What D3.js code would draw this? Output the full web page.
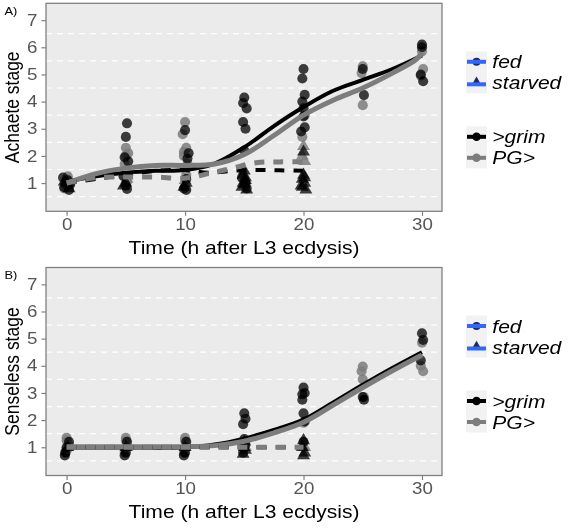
<!DOCTYPE html>
<html>
<head>
<meta charset="utf-8">
<script src="https://cdn.jsdelivr.net/npm/d3@7"></script>
<style>
  body { margin: 0; background: #fff; }
  text { font-family: "Liberation Sans", Arial, sans-serif; }
</style>
</head>
<body>
<svg id="chart" width="569" height="531"></svg>
<script>
// axes
var timeTicks = [0, 10, 20, 30];
var stageTicks = [1, 2, 3, 4, 5, 6, 7];
var gridStages = [0.5, 1.5, 2.5, 3.5, 4.5, 5.5, 6.5];

// legend
var dietLabels = ['fed', 'starved'];
var genotypeLabels = ['>grim', 'PG>'];

// panel A: Achaete stage, points are [time, stage] (jittered as drawn)
var achGrimFed = [
  [-0.2, 0.85], [0.1, 1.1], [0.3, 0.95], [-0.3, 1.2], [0.2, 0.75], [-0.1, 1.0],
  [5.1, 3.2], [5.0, 2.7], [4.9, 1.95], [5.2, 1.8], [5.1, 0.78], [4.8, 1.25], [5.0, 0.9],
  [10.0, 2.95], [10.2, 1.9], [9.9, 0.8], [10.1, 1.15], [10.3, 2.1], [10.1, 0.75],
  [15.0, 4.15], [14.9, 3.95], [15.2, 3.75], [14.9, 3.25], [15.1, 3.0], [15.0, 2.2], [14.8, 1.2], [15.2, 0.8], [15.1, 1.0],
  [20.0, 5.2], [19.9, 4.85], [20.1, 4.25], [19.9, 4.0], [20.0, 3.75], [20.1, 3.05], [19.8, 2.9], [20.0, 3.45],
  [25.0, 5.2], [25.1, 4.24],
  [30.0, 6.1], [30.1, 4.75], [29.9, 5.0], [30.0, 6.0]
];
var achPgFed = [
  [0.0, 1.15], [-0.1, 0.9], [0.3, 1.05], [-0.2, 0.8], [0.1, 1.25],
  [5.0, 2.3], [5.2, 2.1], [4.9, 1.7], [5.1, 1.05], [5.0, 2.0],
  [10.0, 3.25], [9.8, 2.8], [10.1, 2.3], [9.9, 2.0], [10.2, 1.7], [10.0, 0.9], [10.1, 1.3], [9.9, 2.15],
  [20.1, 3.5], [19.9, 2.7],
  [25.0, 5.3], [24.9, 5.05], [25.0, 3.87],
  [30.0, 5.85], [30.1, 5.2], [29.9, 4.95]
];
var achGrimStarved = [
  [0.1, 1.0], [-0.2, 1.05], [0.2, 0.8],
  [5.0, 1.0], [4.8, 0.9],
  [10.1, 1.0], [9.9, 0.85],
  [14.9, 1.3], [15.1, 1.1], [15.0, 0.95], [14.8, 0.85], [15.2, 0.75], [15.0, 1.45], [15.1, 1.2], [14.9, 1.0],
  [20.0, 1.3], [19.9, 1.15], [20.1, 1.0], [19.8, 0.9], [20.2, 0.75], [20.0, 2.15], [20.1, 1.2], [19.9, 0.85]
];
var achPgStarved = [
  [0.0, 0.95], [0.2, 1.1],
  [5.1, 1.15],
  [10.0, 1.1],
  [15.1, 1.0],
  [20.0, 2.35], [20.1, 1.8], [19.9, 2.0]
];
var achGrimFedCurve = [[0, 1.05], [2.5, 1.25], [5, 1.38], [7.5, 1.45], [10, 1.48], [12.5, 1.72], [15, 2.32], [17.5, 3.1], [20, 3.8], [22.5, 4.4], [25, 4.8], [27.5, 5.2], [30, 5.7]];
var achPgFedCurve = [[0, 1.0], [2.5, 1.35], [5, 1.55], [7.5, 1.65], [10, 1.65], [12.5, 1.7], [15, 2.05], [17.5, 2.75], [20, 3.5], [22.5, 4.05], [25, 4.5], [27.5, 5.05], [29.5, 5.55], [30, 5.8]];
var achGrimStarvedCurve = [[0, 1.0], [2.5, 1.15], [5, 1.3], [7.5, 1.45], [10, 1.48], [12, 1.38], [14, 1.45], [16, 1.48], [18, 1.47], [20, 1.45]];
var achPgStarvedCurve = [[0, 1.0], [2.5, 1.2], [5, 1.22], [7.5, 1.22], [10, 1.18], [12, 1.35], [14, 1.55], [16, 1.75], [18, 1.78], [20, 1.78]];

// panel B: Senseless stage
var senGrimFed = [
  [-0.1, 0.8], [0.2, 1.2], [0.0, 1.0], [-0.15, 0.7],
  [5.0, 0.8], [5.1, 1.2], [4.9, 0.7],
  [10.0, 0.8], [10.1, 1.2], [9.9, 0.7],
  [15.0, 2.25], [15.1, 2.05], [14.9, 1.85], [15.0, 1.3], [15.1, 1.1], [14.9, 0.8],
  [20.0, 3.2], [20.1, 3.0], [19.9, 2.75], [20.0, 2.25], [20.1, 1.95], [20.0, 1.2], [19.9, 2.95],
  [25.0, 2.85], [25.1, 2.75],
  [30.0, 5.2], [30.1, 4.95], [29.9, 4.2]
];
var senPgFed = [
  [0.0, 1.25], [0.1, 0.95], [-0.1, 0.8], [0.2, 1.05], [0.0, 1.35],
  [5.0, 1.25], [5.1, 1.0], [4.9, 0.8], [5.0, 1.35],
  [10.0, 1.25], [10.1, 1.0], [9.9, 0.8], [10.0, 1.35],
  [15.0, 1.0],
  [20.0, 1.9],
  [25.0, 3.97], [24.9, 3.8], [25.0, 3.5], [25.1, 2.85],
  [30.0, 4.85], [29.9, 4.0], [30.1, 3.8]
];
var senGrimStarved = [
  [0.1, 1.0], [5.0, 1.0], [10.0, 1.0],
  [15.0, 1.0], [14.9, 0.75], [15.1, 0.9], [15.0, 1.2],
  [20.0, 1.25], [19.9, 1.0], [20.1, 0.8], [20.0, 0.7]
];
var senPgStarved = [[0.0, 1.0], [5.1, 1.0], [10.0, 1.0], [15.1, 1.0], [20.1, 1.0]];
var senGrimFedCurve = [[0, 0.99], [5, 0.99], [10, 1.0], [12.5, 1.1], [15, 1.32], [17.5, 1.64], [20, 2.02], [22.5, 2.65], [25, 3.3], [27.5, 3.92], [30, 4.5]];
var senPgFedCurve = [[0, 1.02], [5, 1.02], [10, 1.02], [12.5, 1.06], [15, 1.22], [17.5, 1.53], [20, 1.92], [22.5, 2.55], [25, 3.2], [27.5, 3.82], [30, 4.4]];
var senGrimStarvedCurve = [[0, 1.0], [5, 1.0], [10, 1.0], [15, 1.0], [20, 1.0]];
var senPgStarvedCurve = [[0, 1.0], [5, 1.0], [10, 1.0], [15, 1.0], [20, 1.0]];

var STRETCH = 1.17;
var BLACK = '#000000', GREY = '#7d7d7d', BLUE = '#3366ff';

var svg = d3.select('#chart');
var defs = svg.append('defs');
defs.append('filter').attr('id', 'soft')
  .append('feGaussianBlur').attr('stdDeviation', 0.7);

function stretchedText(parent, x, y, str, opts) {
  opts = opts || {};
  var g = parent.append('g')
    .attr('transform', 'translate(' + x + ',' + y + ') scale(' + STRETCH + ',1)' + (opts.rotate ? ' rotate(' + opts.rotate + ')' : ''));
  return g.append('text')
    .attr('text-anchor', opts.anchor || 'start')
    .attr('font-size', opts.size || 18)
    .attr('font-style', opts.italic ? 'italic' : 'normal')
    .attr('fill', opts.fill || '#000')
    .text(str);
}

function renderPanel({ rootSelector, top, label, yTitle, groups, curves }) {
  var left = 46, right = 442, height = 208;
  var x = d3.scaleLinear().domain([-1.74, 31.69]).range([left, right]);
  var y = d3.scaleLinear().domain([-0.04, 7.62]).range([top + height, top]);

  var root = svg.append('g').attr('id', rootSelector);

  root.append('rect')
    .attr('x', left).attr('y', top)
    .attr('width', right - left).attr('height', height)
    .attr('fill', '#ebebeb');

  root.selectAll('.grid')
    .data(gridStages)
    .enter()
    .append('line')
    .classed('grid', true)
    .attr('x1', left).attr('x2', right)
    .attr('y1', y).attr('y2', y)
    .attr('stroke', '#fff')
    .attr('stroke-width', 1.2)
    .attr('stroke-dasharray', '6,5');

  // points
  var pts = root.append('g').attr('filter', 'url(#soft)');
  groups.forEach(function (grp) {
    var shape = d3.symbol().type(grp.diet === 'fed' ? d3.symbolCircle : d3.symbolTriangle).size(grp.diet === 'fed' ? 80 : 72);
    pts.selectAll(null)
      .data(grp.points)
      .enter()
      .append('path')
      .attr('d', shape)
      .attr('transform', function (p) { return 'translate(' + x(p[0]) + ',' + y(p[1]) + ')'; })
      .attr('fill', grp.color)
      .attr('fill-opacity', grp.color === BLACK ? 0.75 : 0.85);
  });

  // smoothers
  var line = d3.line()
    .x(function (p) { return x(p[0]); })
    .y(function (p) { return y(p[1]); })
    .curve(d3.curveCatmullRom);
  var lines = root.append('g').attr('filter', 'url(#soft)');
  curves.forEach(function (c) {
    lines.append('path')
      .datum(c.values)
      .attr('d', line)
      .attr('fill', 'none')
      .attr('stroke', c.color)
      .attr('stroke-width', c.color === BLACK ? 4 : 5)
      .attr('stroke-linecap', 'butt')
      .attr('stroke-dasharray', c.dashed ? '10,9' : null);
  });

  root.append('rect')
    .attr('x', left).attr('y', top)
    .attr('width', right - left).attr('height', height)
    .attr('fill', 'none')
    .attr('stroke', '#808080')
    .attr('stroke-width', 1.3);

  // axes
  var yAxis = root.append('g')
    .attr('transform', 'translate(' + left + ',0)')
    .call(d3.axisLeft(y).tickValues(stageTicks).tickSize(4.5).tickPadding(2.8));
  var xAxis = root.append('g')
    .attr('transform', 'translate(0,' + (top + height) + ')')
    .call(d3.axisBottom(x).tickValues(timeTicks).tickSize(4.5).tickPadding(3.1));
  [yAxis, xAxis].forEach(function (ax) {
    ax.select('.domain').remove();
    ax.selectAll('.tick line').attr('stroke', '#808080').attr('stroke-width', 1.2);
    ax.selectAll('.tick text')
      .attr('font-size', 16)
      .attr('font-family', '"Liberation Sans", Arial, sans-serif')
      .attr('fill', '#555')
      .attr('transform', 'scale(' + STRETCH + ',1)');
  });

  stretchedText(root, (left + right) / 2, top + height + 42.5, 'Time (h after L3 ecdysis)', { anchor: 'middle', size: 18 });
  stretchedText(root, 18.5, top + height / 2, yTitle, { anchor: 'middle', size: 17.5, rotate: -90 });
  stretchedText(root, 4.5, top + 11.5, label, { size: 11 });

  // legend
  var legend = root.append('g');
  var keyX = 466, keyW = 21, keyH = 21;
  var dietY = [top + 58.5, top + 79.5];
  var genoY = [top + 133.5, top + 154.5];
  legend.append('rect').attr('x', keyX).attr('y', dietY[0] - keyH / 2).attr('width', keyW).attr('height', keyH * 2).attr('fill', '#f2f2f2');
  legend.append('rect').attr('x', keyX).attr('y', genoY[0] - keyH / 2).attr('width', keyW).attr('height', keyH * 2).attr('fill', '#f2f2f2');

  dietLabels.forEach(function (d, i) {
    var sym = d3.symbol().type(i === 0 ? d3.symbolCircle : d3.symbolTriangle).size(50);
    legend.append('path').attr('d', sym).attr('transform', 'translate(' + (keyX + keyW / 2) + ',' + dietY[i] + ')').attr('fill', '#1c2a66');
    legend.append('line').attr('x1', keyX + 1).attr('x2', keyX + keyW - 1).attr('y1', dietY[i] + (i === 0 ? 0 : 1.5)).attr('y2', dietY[i] + (i === 0 ? 0 : 1.5))
      .attr('stroke', BLUE).attr('stroke-width', 4);
    stretchedText(legend, 492.3, dietY[i] + 6.5, d, { italic: true, size: 18 });
  });
  genotypeLabels.forEach(function (d, i) {
    var col = i === 0 ? BLACK : GREY;
    legend.append('circle').attr('cx', keyX + keyW / 2).attr('cy', genoY[i]).attr('r', 4.3).attr('fill', col);
    legend.append('line').attr('x1', keyX + 1).attr('x2', keyX + keyW - 1).attr('y1', genoY[i]).attr('y2', genoY[i])
      .attr('stroke', col).attr('stroke-width', 4);
    stretchedText(legend, 492.3, genoY[i] + 6.5, d, { italic: true, size: 18 });
  });
}

renderPanel({
  rootSelector: 'panelA',
  top: 3.3,
  label: 'A)',
  yTitle: 'Achaete stage',
  groups: [
    { diet: 'fed', color: GREY, points: achPgFed },
    { diet: 'starved', color: GREY, points: achPgStarved },
    { diet: 'fed', color: BLACK, points: achGrimFed },
    { diet: 'starved', color: BLACK, points: achGrimStarved }
  ],
  curves: [
    { color: BLACK, values: achGrimFedCurve },
    { color: GREY, values: achPgFedCurve },
    { color: BLACK, dashed: true, values: achGrimStarvedCurve },
    { color: GREY, dashed: true, values: achPgStarvedCurve }
  ]
});

renderPanel({
  rootSelector: 'panelB',
  top: 267.5,
  label: 'B)',
  yTitle: 'Senseless stage',
  groups: [
    { diet: 'fed', color: GREY, points: senPgFed },
    { diet: 'starved', color: GREY, points: senPgStarved },
    { diet: 'fed', color: BLACK, points: senGrimFed },
    { diet: 'starved', color: BLACK, points: senGrimStarved }
  ],
  curves: [
    { color: BLACK, values: senGrimFedCurve },
    { color: GREY, values: senPgFedCurve },
    { color: BLACK, dashed: true, values: senGrimStarvedCurve },
    { color: GREY, dashed: true, values: senPgStarvedCurve }
  ]
});
</script>
</body>
</html>
